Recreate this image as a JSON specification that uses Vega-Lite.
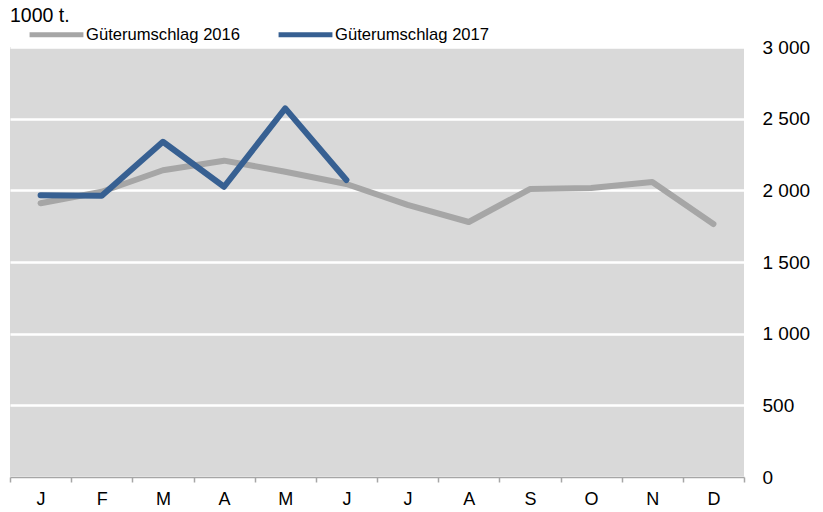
{
  "$schema": "https://vega.github.io/schema/vega-lite/v6.json",
  "width": 734,
  "height": 430,
  "autosize": {"type": "none"},
  "padding": {"left": 10, "top": 47, "right": 79, "bottom": 35},
  "background": "white",
  "config": {
    "font": "Liberation Sans",
    "view": {"fill": "#d9d9d9", "stroke": null},
    "locale": {"number": {"decimal": ",", "thousands": " ", "grouping": [3], "currency": ["", " €"]}}
  },
  "title": {"text": "1000 t.", "anchor": "start", "frame": "group", "fontSize": 19.5, "fontWeight": "normal", "color": "#000000", "offset": -21},
  "data": {"values": [
    {"month": "Jan", "series": "Güterumschlag 2016", "value": 1910},
    {"month": "Feb", "series": "Güterumschlag 2016", "value": 1990},
    {"month": "Mär", "series": "Güterumschlag 2016", "value": 2140},
    {"month": "Apr", "series": "Güterumschlag 2016", "value": 2207},
    {"month": "Mai", "series": "Güterumschlag 2016", "value": 2130},
    {"month": "Jun", "series": "Güterumschlag 2016", "value": 2044},
    {"month": "Jul", "series": "Güterumschlag 2016", "value": 1898},
    {"month": "Aug", "series": "Güterumschlag 2016", "value": 1779},
    {"month": "Sep", "series": "Güterumschlag 2016", "value": 2009},
    {"month": "Okt", "series": "Güterumschlag 2016", "value": 2016},
    {"month": "Nov", "series": "Güterumschlag 2016", "value": 2058},
    {"month": "Dez", "series": "Güterumschlag 2016", "value": 1765},
    {"month": "Jan", "series": "Güterumschlag 2017", "value": 1965},
    {"month": "Feb", "series": "Güterumschlag 2017", "value": 1963},
    {"month": "Mär", "series": "Güterumschlag 2017", "value": 2339},
    {"month": "Apr", "series": "Güterumschlag 2017", "value": 2025},
    {"month": "Mai", "series": "Güterumschlag 2017", "value": 2572},
    {"month": "Jun", "series": "Güterumschlag 2017", "value": 2072}
  ]},
  "mark": {"type": "line", "strokeWidth": 6, "strokeCap": "round", "strokeJoin": "round"},
  "encoding": {
    "x": {
      "field": "month", "type": "nominal", "sort": null,
      "scale": {"type": "band", "paddingInner": 0, "paddingOuter": 0},
      "axis": {
        "title": null, "labelAngle": 0, "labelExpr": "substring(datum.label, 0, 1)",
        "labelFontSize": 18, "labelColor": "#000000", "labelPadding": 8,
        "tickBand": "extent", "tickSize": 5, "tickColor": "#a6a6a6", "tickWidth": 1.5,
        "domainColor": "#a6a6a6", "domainWidth": 1.5, "grid": false
      }
    },
    "y": {
      "field": "value", "type": "quantitative",
      "scale": {"domain": [0, 3000], "nice": false},
      "axis": {
        "orient": "right", "title": null, "values": [0, 500, 1000, 1500, 2000, 2500, 3000],
        "format": ",d", "labelFontSize": 19, "labelColor": "#000000", "labelPadding": 18,
        "ticks": false, "domain": false, "grid": true, "gridColor": "#ffffff", "gridWidth": 2.5
      }
    },
    "color": {
      "field": "series", "type": "nominal",
      "scale": {"domain": ["Güterumschlag 2016", "Güterumschlag 2017"], "range": ["#a6a6a6", "#376092"]},
      "legend": {
        "title": null, "orient": "none", "direction": "horizontal", "legendX": 17, "legendY": -42,
        "padding": 0, "symbolType": "stroke", "symbolSize": 2900, "symbolStrokeWidth": 5,
        "labelFontSize": 16.6, "labelColor": "#000000", "labelOffset": 0, "columnPadding": 27
      }
    }
  }
}
